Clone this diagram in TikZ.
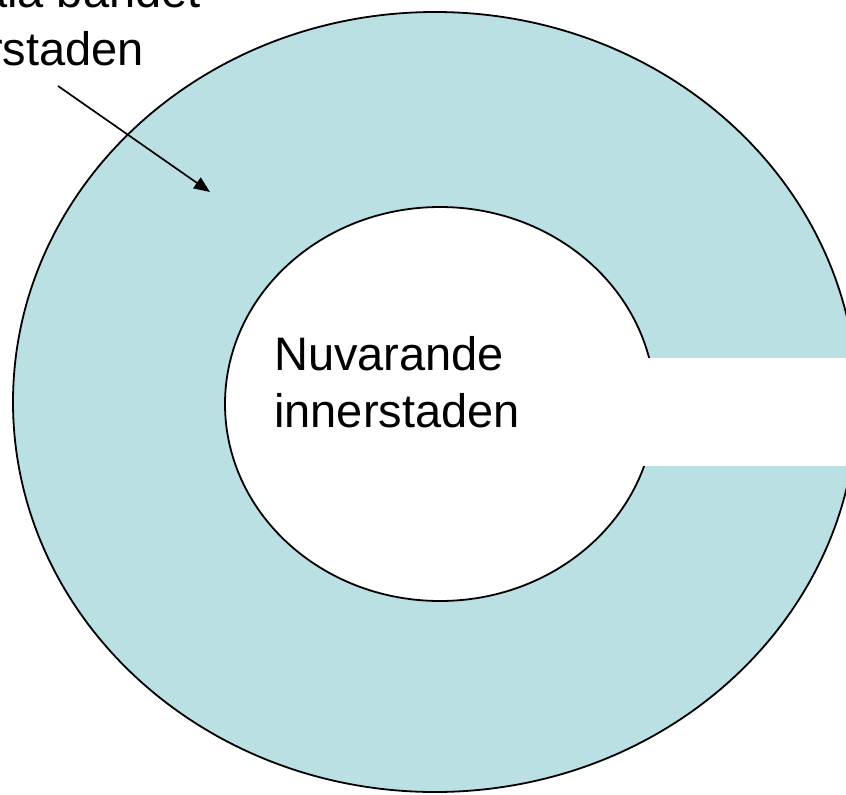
\documentclass[tikz,border=0pt]{standalone}
\usepackage{fontspec}
\setmainfont{Liberation Sans}
\usetikzlibrary{arrows.meta}
\definecolor{ringblue}{RGB}{186,224,227}
\tikzset{
  lbl/.style={inner sep=0pt, font=\fontsize{47}{57}\selectfont},
  ringline/.style={draw=black, line width=1.8pt},
  pointer/.style={draw=black, line width=1.7pt, -{Triangle[length=16pt,width=13pt]}}
}
\begin{document}
\begin{tikzpicture}[x=1pt,y=-1pt]
\useasboundingbox (0,0) rectangle (846,795);
\clip (0,0) rectangle (846,795);
% outer ring
\path[ringline, fill=ringblue] (435,402) ellipse [x radius=422, y radius=390];
% inner area
\path[ringline, fill=white] (440,404) ellipse [x radius=215, y radius=197];
% gap on the right
\fill[white] (642,358) rectangle (870,466);
% texts
\node[lbl, anchor=base west] (in1) at (274,370) {Nuvarande};
\node[lbl, anchor=base west] (in2) at (274,427) {innerstaden};
\node[lbl, anchor=base east] (top1) at (201,8) {ala bandet};
\node[lbl, anchor=base east] (top2) at (144,65) {rstaden};
% arrow
\coordinate (arrstart) at (58,86);
\coordinate (arrtip) at (210,192);
\draw[pointer] (arrstart) -- (arrtip);
\end{tikzpicture}
\end{document}
